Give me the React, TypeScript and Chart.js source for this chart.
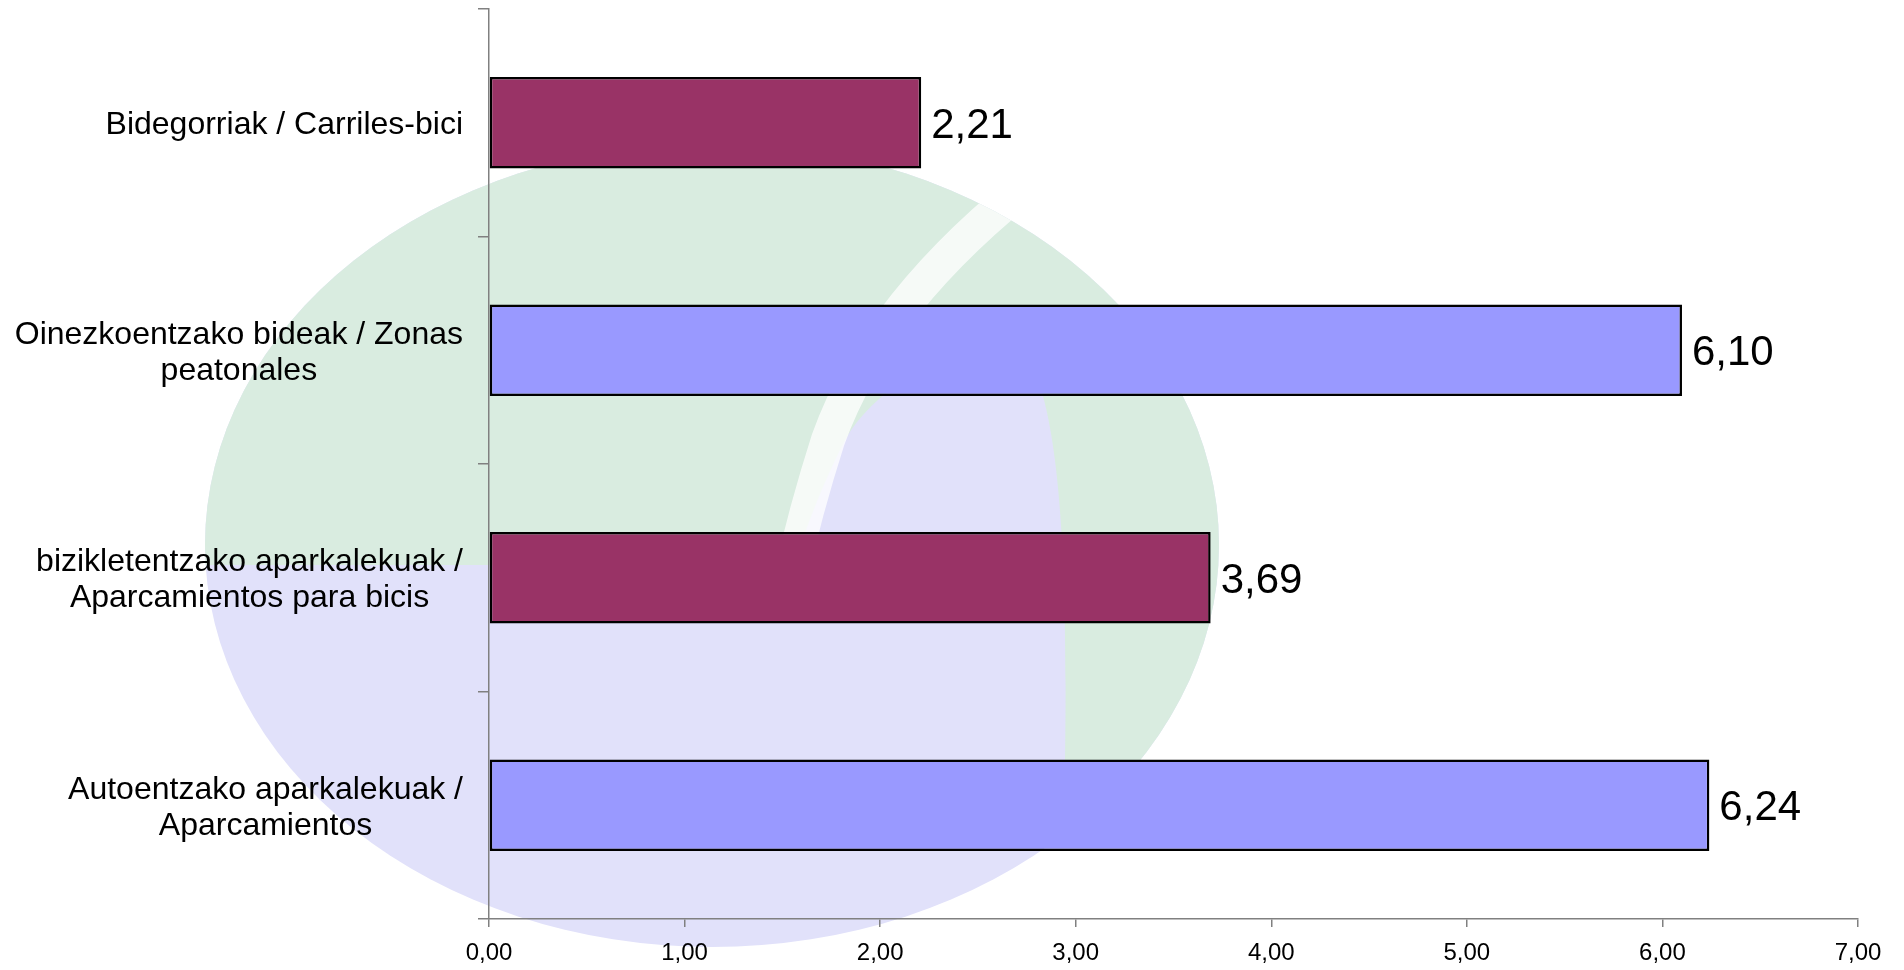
import React, { useEffect, useRef } from "react";
import { Chart, registerables } from "chart.js";

Chart.register(...registerables);

const categories: string[][] = [
  ["Bidegorriak / Carriles-bici"],
  ["Oinezkoentzako bideak / Zonas", "peatonales"],
  ["bizikletentzako aparkalekuak /", "Aparcamientos para bicis"],
  ["Autoentzako aparkalekuak /", "Aparcamientos"],
];
const values: number[] = [2.21, 6.1, 3.69, 6.24];
const barColors: string[] = ["#993366", "#9999FF", "#993366", "#9999FF"];
const xMin = 0;
const xMax = 7;
const xStep = 1;

const fmt = (v: number) => v.toFixed(2).replace(".", ",");
const FONT = '"Liberation Sans", Arial, sans-serif';

const watermarkPlugin = {
  id: "watermark",
  beforeDraw(chart: any) {
    const ctx = chart.ctx as CanvasRenderingContext2D;
    ctx.save();
    ctx.fillStyle = "#ffffff";
    ctx.fillRect(0, 0, chart.width, chart.height);
    ctx.beginPath();
    ctx.ellipse(712, 545, 507, 402, 0, 0, Math.PI * 2);
    ctx.clip();
    ctx.fillStyle = "#e1e1fa";
    ctx.fillRect(0, 0, chart.width, chart.height);
    ctx.fillStyle = "#d9ece0";
    ctx.beginPath();
    ctx.moveTo(150, 100);
    ctx.lineTo(1300, 100);
    ctx.lineTo(1300, 760);
    ctx.lineTo(1065, 760);
    ctx.bezierCurveTo(1068, 560, 1060, 420, 1030, 360);
    ctx.bezierCurveTo(960, 340, 880, 380, 845, 440);
    ctx.bezierCurveTo(820, 490, 805, 530, 795, 565);
    ctx.lineTo(150, 565);
    ctx.closePath();
    ctx.fill();
    ctx.strokeStyle = "rgba(255,255,255,0.75)";
    ctx.lineWidth = 34;
    ctx.beginPath();
    ctx.moveTo(1040, 175);
    ctx.bezierCurveTo(930, 260, 860, 350, 828, 440);
    ctx.bezierCurveTo(812, 490, 800, 535, 790, 580);
    ctx.stroke();
    ctx.restore();
  },
};

const labelsPlugin = {
  id: "customLabels",
  afterDraw(chart: any) {
    const ctx = chart.ctx as CanvasRenderingContext2D;
    const yScale = chart.scales.y;
    ctx.save();
    ctx.fillStyle = "#000000";
    ctx.textBaseline = "alphabetic";
    ctx.textAlign = "center";
    ctx.font = `32px ${FONT}`;
    const right = yScale.right - 26;
    categories.forEach((lines, i) => {
      const cy = yScale.getPixelForValue(i);
      const w = Math.max(...lines.map((l) => ctx.measureText(l).width));
      const cx = right - w / 2;
      lines.forEach((l, j) => {
        const by = cy + 11.5 + (j - (lines.length - 1) / 2) * 36;
        ctx.fillText(l, cx, by);
      });
    });
    ctx.font = `42px ${FONT}`;
    ctx.textAlign = "left";
    const meta = chart.getDatasetMeta(0);
    meta.data.forEach((el: any, i: number) => {
      ctx.fillText(fmt(values[i]), el.x + 10, el.y + 15);
    });
    ctx.restore();
  },
};

export default function App() {
  const ref = useRef<HTMLCanvasElement | null>(null);
  useEffect(() => {
    if (!ref.current) return;
    const chart = new Chart(ref.current, {
      type: "bar",
      data: {
        labels: categories.map((c) => c.join(" ")),
        datasets: [
          {
            data: values,
            backgroundColor: barColors,
            borderColor: "#000000",
            borderWidth: 2.5,
            borderSkipped: false,
            barPercentage: 0.402,
            categoryPercentage: 1,
          },
        ],
      },
      options: {
        indexAxis: "y",
        animation: false,
        responsive: false,
        maintainAspectRatio: false,
        layout: { padding: { top: 9, right: 46, left: 0, bottom: 0 } },
        plugins: {
          legend: { display: false },
          tooltip: { enabled: false },
        },
        scales: {
          x: {
            type: "linear",
            min: xMin,
            max: xMax,
            ticks: {
              stepSize: xStep,
              callback: (v: any) => fmt(Number(v)),
              color: "#000000",
              font: { family: FONT, size: 24 },
              padding: 12,
              maxRotation: 0,
            },
            grid: {
              drawOnChartArea: false,
              drawTicks: true,
              tickLength: 8,
              color: "#808080",
              lineWidth: 1.5,
            },
            border: { color: "#808080", width: 1.5 },
            afterFit: (s: any) => {
              s.height = 51;
            },
          },
          y: {
            type: "category",
            ticks: { display: false },
            grid: {
              drawOnChartArea: false,
              drawTicks: true,
              tickLength: 11,
              color: "#808080",
              lineWidth: 1.5,
              offset: true,
            },
            border: { color: "#808080", width: 1.5 },
            afterFit: (s: any) => {
              s.width = 489;
            },
          },
        },
      },
      plugins: [watermarkPlugin, labelsPlugin],
    });
    return () => chart.destroy();
  }, []);
  return (
    <div style={{ position: "absolute", left: 0, top: 0, width: 1904, height: 970 }}>
      <canvas ref={ref} width={1904} height={970} style={{ display: "block" }} />
    </div>
  );
}
